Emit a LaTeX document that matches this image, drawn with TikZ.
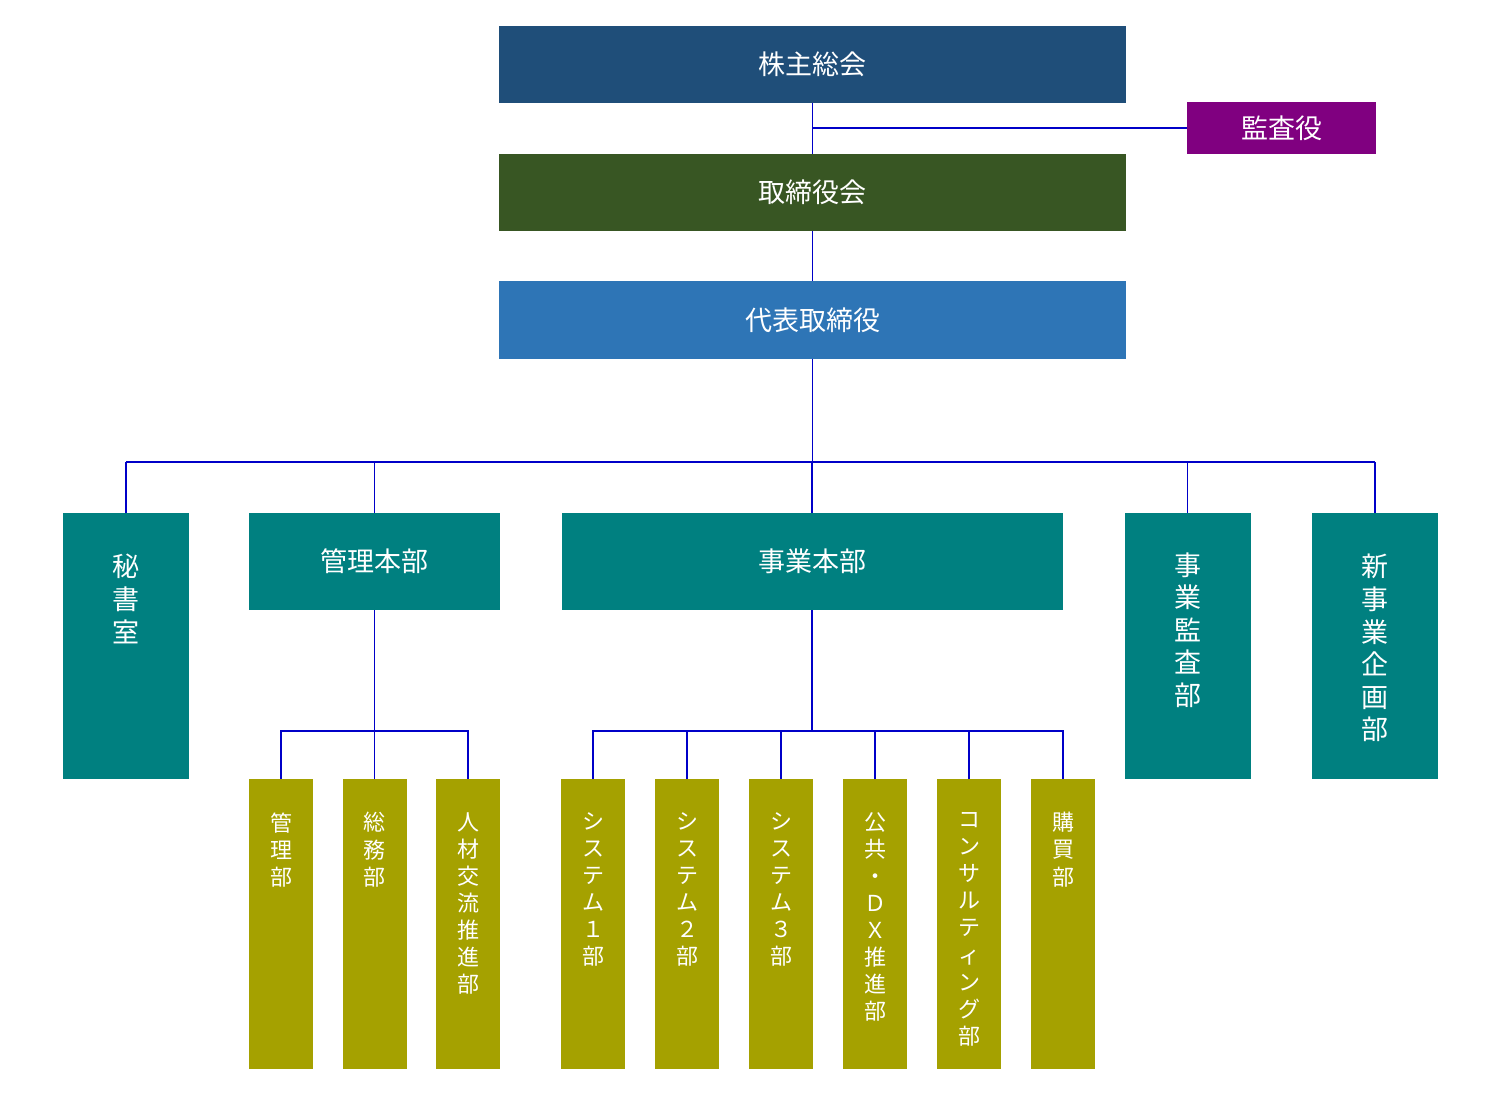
\documentclass[tikz,border=0pt]{standalone}
\usepackage{fontspec}
\newfontfamily\jpfont{Noto Sans CJK JP}
\definecolor{cSoukai}{RGB}{31,78,121}
\definecolor{cKansa}{RGB}{128,0,128}
\definecolor{cBoard}{RGB}{56,86,35}
\definecolor{cCeo}{RGB}{46,117,182}
\definecolor{cTeal}{RGB}{0,128,128}
\definecolor{cOlive}{RGB}{165,161,0}
\definecolor{cLine}{RGB}{0,0,200}
\tikzset{
  box/.style={draw=none, inner sep=0pt, outer sep=0pt, text=white, font=\jpfont\fontsize{13.5}{15}\selectfont},
  tealbox/.style={box, fill=cTeal, minimum width=63pt, minimum height=133pt},
  olivebox/.style={box, fill=cOlive, minimum width=32pt, minimum height=145pt},
  vtext/.style={anchor=north, inner sep=0pt, text=white, align=center, font=\jpfont\fontsize{13.5}{16.3}\selectfont},
  vtextsmall/.style={vtext, font=\jpfont\fontsize{11}{13.55}\selectfont},
  conn/.style={draw=cLine, line width=0.7pt},
  connthick/.style={draw=cLine, line width=1.2pt}
}
\begin{document}
\begin{tikzpicture}[x=0.5pt,y=-0.5pt]
  \useasboundingbox (0,0) rectangle (1502,1097);

  % Top boxes
  \node [box, fill=cSoukai, minimum width=313.5pt, minimum height=38.5pt] (soukai) at (812.5,64.5) {株主総会};
  \node [box, fill=cKansa, minimum width=94.5pt, minimum height=26pt] (kansa) at (1281.5,128) {監査役};
  \node [box, fill=cBoard, minimum width=313.5pt, minimum height=38.5pt] (board) at (812.5,192.5) {取締役会};
  \node [box, fill=cCeo, minimum width=313.5pt, minimum height=39pt] (ceo) at (812.5,320) {代表取締役};

  % Second level
  \node [tealbox] (hisho) at (126,646) {};
  \node [box, fill=cTeal, minimum width=125.5pt, minimum height=48.5pt] (kanri) at (374.5,561.5) {管理本部};
  \node [box, fill=cTeal, minimum width=250.5pt, minimum height=48.5pt] (jigyo) at (812,561.5) {事業本部};
  \node [tealbox] (jkansa) at (1187.5,646) {};
  \node [tealbox] (shinki) at (1375,646) {};

  % Third level
  \node [olivebox] (k1) at (281,924) {};
  \node [olivebox] (k2) at (374.5,924) {};
  \node [olivebox] (k3) at (468,924) {};
  \node [olivebox] (j1) at (593,924) {};
  \node [olivebox] (j2) at (687,924) {};
  \node [olivebox] (j3) at (781,924) {};
  \node [olivebox] (j4) at (875,924) {};
  \node [olivebox] (j5) at (969,924) {};
  \node [olivebox] (j6) at (1063,924) {};

  % Text Node
  \node [vtext] (thisho) at (126,554) {秘\\書\\室};
  \node [vtext] (tjkansa) at (1187.5,552) {事\\業\\監\\査\\部};
  \node [vtext] (tshinki) at (1375,554) {新\\事\\業\\企\\画\\部};
  \node [vtextsmall] (tk1) at (281,812) {管\\理\\部};
  \node [vtextsmall] (tk2) at (374.5,812) {総\\務\\部};
  \node [vtextsmall] (tk3) at (468,812) {人\\材\\交\\流\\推\\進\\部};
  \node [vtextsmall] (tj1) at (593,812) {シ\\ス\\テ\\ム\\１\\部};
  \node [vtextsmall] (tj2) at (687,812) {シ\\ス\\テ\\ム\\２\\部};
  \node [vtextsmall] (tj3) at (781,812) {シ\\ス\\テ\\ム\\３\\部};
  \node [vtextsmall] (tj4) at (875,812) {公\\共\\・\\Ｄ\\Ｘ\\推\\進\\部};
  \node [vtextsmall] (tj5) at (969,812) {コ\\ン\\サ\\ル\\テ\\ィ\\ン\\グ\\部};
  \node [vtextsmall] (tj6) at (1063,812) {購\\買\\部};

  % Bus coordinates
  \coordinate (topbus) at (812.5,462);
  \coordinate (kbus) at (374.5,731);
  \coordinate (jbus) at (812,731);

  %Straight Lines
  \draw [conn] (soukai.south -| board.north) -- (board.north);
  \draw [conn] (kansa.west) -- (kansa.west -| soukai.south);
  \draw [conn] (board.south) -- (ceo.north);
  \draw [conn] (ceo.south) -- (ceo.south |- topbus);
  \draw [conn] (hisho.north |- topbus) -| (shinki.north |- topbus);
  \draw [connthick] (hisho.north) -- (hisho.north |- topbus);
  \draw [connthick] (shinki.north) -- (shinki.north |- topbus);
  \draw [conn] (kanri.north) -- (kanri.north |- topbus);
  \draw [conn] (jigyo.north) -- (jigyo.north |- topbus);
  \draw [conn] (jkansa.north) -- (jkansa.north |- topbus);

  %Straight Lines
  \draw [conn] (kanri.south) -- (kbus);
  \draw [conn] (k1.north) |- (kbus) -| (k3.north);
  \draw [conn] (k2.north) -- (k2.north |- kbus);

  %Straight Lines
  \draw [conn] (jigyo.south) -- (jbus);
  \draw [conn] (j1.north) |- (jbus) -| (j6.north);
  \draw [conn] (j2.north) -- (j2.north |- jbus);
  \draw [connthick] (j3.north) -- (j3.north |- jbus);
  \draw [connthick] (j4.north) -- (j4.north |- jbus);
  \draw [conn] (j5.north) -- (j5.north |- jbus);

\end{tikzpicture}
\end{document}
